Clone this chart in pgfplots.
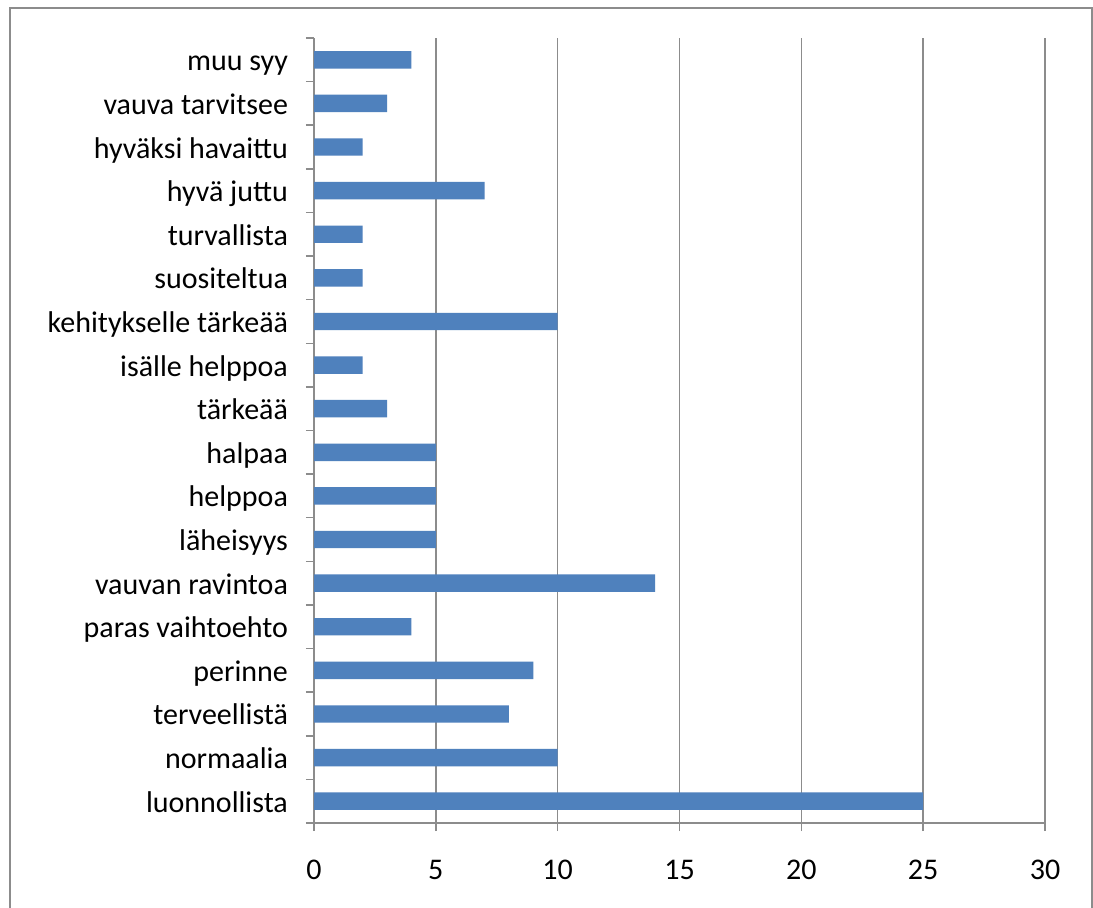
\documentclass[border=0pt]{standalone}
\usepackage{pgfplots}
\pgfplotsset{compat=1.18}
\usepackage{fontspec}
\setmainfont{Carlito}
\definecolor{barblue}{HTML}{4F81BD}
\definecolor{axgray}{HTML}{8C8C8C}
\begin{document}
\begin{tikzpicture}[x=1pt,y=1pt]
\fill[white] (0,0) rectangle (546.5,-454);
\useasboundingbox (0,0) rectangle (546.5,-454);
\draw[axgray, line width=1pt] (5,-454) -- (5,-4) -- (546,-4) -- (546,-454);
\begin{axis}[
  at={(157pt,-411.5pt)}, anchor=south west,
  scale only axis, width=365.5pt, height=392.5pt,
  xbar, bar width=8.7pt,
  axis lines*=left,
  axis line style={axgray, line width=0.75pt},
  xmin=0, xmax=30, xtick={0,5,...,30},
  xmajorgrids, grid style={axgray, line width=0.75pt},
  ymin=-0.5, ymax=17.5, ytick={0,...,17},
  yticklabels={luonnollista,normaalia,terveellistä,perinne,paras vaihtoehto,vauvan ravintoa,läheisyys,helppoa,halpaa,tärkeää,isälle helppoa,kehitykselle tärkeää,suositeltua,turvallista,hyvä juttu,hyväksi havaittu,vauva tarvitsee,muu syy},
  minor ytick={-0.5,0.5,...,17.5},
  tick align=outside, major tick length=4pt, minor tick length=4pt,
  tick style={axgray, line width=0.75pt},
  major y tick style={draw=none},
  ticklabel style={font=\fontsize{15}{18}\selectfont, text=black},
  /pgf/number format/assume math mode=true,
  yticklabel style={anchor=base east, xshift=-5.5pt, yshift=-5.5pt},
  xticklabel style={anchor=base, yshift=-24pt},
]
\addplot[fill=barblue, draw=none] coordinates {
(25,0) (10,1) (8,2) (9,3) (4,4) (14,5) (5,6) (5,7) (5,8) (3,9)
(2,10) (10,11) (2,12) (2,13) (7,14) (2,15) (3,16) (4,17)};
\end{axis}
\end{tikzpicture}
\end{document}
